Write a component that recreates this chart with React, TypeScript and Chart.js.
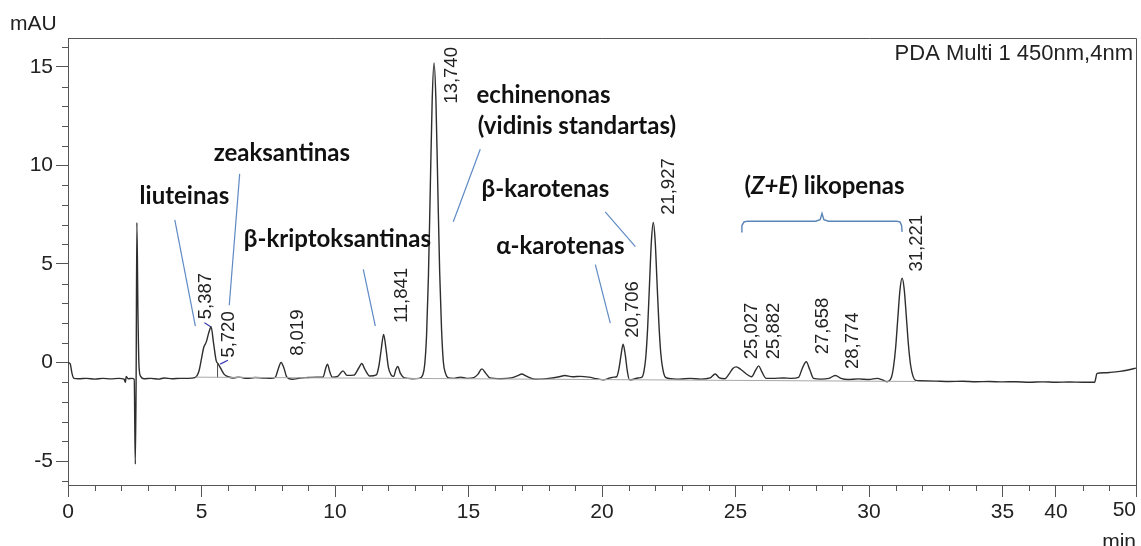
import React, { useEffect, useRef } from "react";
import { Chart, registerables } from "chart.js";

Chart.register(...registerables);

// ---- Chromatogram trace (time, min / signal, mAU) ----
const traceTime = [
  0.0, 0.08, 0.15, 0.22, 0.4, 0.7, 1.0, 1.3, 1.6, 1.9, 2.1, 2.15, 2.18, 2.25, 2.4, 2.48, 2.52, 2.55, 2.58, 2.62,
  2.66, 2.72, 2.85, 3.1, 3.4, 3.6, 3.9, 4.2, 4.5, 4.75, 4.9, 5.0, 5.08, 5.18, 5.28, 5.36, 5.45, 5.55, 5.63, 5.72,
  5.85, 6.0, 6.2, 6.4, 6.7, 7.0, 7.3, 7.6, 7.76, 7.88, 7.98, 8.08, 8.2, 8.4, 8.7, 9.0, 9.3, 9.55, 9.65, 9.72,
  9.8, 9.9, 10.1, 10.3, 10.45, 10.7, 10.9, 11.0, 11.12, 11.3, 11.55, 11.64, 11.73, 11.82, 11.91, 12.0, 12.1, 12.2,
  12.28, 12.35, 12.45, 12.6, 12.9, 13.15, 13.29, 13.36, 13.43, 13.5, 13.57, 13.64, 13.71, 13.78, 13.85, 13.92,
  13.99, 14.06, 14.14, 14.25, 14.45, 14.7, 14.95, 15.2, 15.35, 15.5, 15.65, 15.8, 16.2, 16.6, 16.85, 17.0, 17.15,
  17.5, 18.0, 18.4, 18.6, 18.9, 19.2, 19.5, 19.8, 20.05, 20.3, 20.45, 20.55, 20.63, 20.71, 20.79, 20.87, 20.95,
  21.03, 21.15, 21.35, 21.5, 21.57, 21.64, 21.71, 21.78, 21.85, 21.92, 21.99, 22.06, 22.13, 22.2, 22.28, 22.38,
  22.6, 22.9, 23.3, 23.7, 24.05, 24.24, 24.4, 24.6, 24.75, 24.9, 25.03, 25.2, 25.45, 25.6, 25.75, 25.87, 25.98,
  26.15, 26.4, 26.8, 27.1, 27.36, 27.5, 27.65, 27.78, 27.92, 28.2, 28.5, 28.74, 28.95, 29.2, 29.6, 30.0, 30.3,
  30.5, 30.67, 30.84, 30.92, 31.0, 31.08, 31.16, 31.24, 31.32, 31.4, 31.48, 31.56, 31.65, 31.75, 31.9, 32.5,
  33.0, 33.5, 34.0, 34.5, 35.0, 35.5, 36.0, 36.5, 37.0, 37.5, 38.0, 38.45, 38.54, 38.8, 39.04, 39.4, 39.7, 40.0,
];
const traceMAU = [
  0.0, -0.05, -0.55, -0.8, -0.82, -0.8, -0.84, -0.8, -0.83, -0.8, -0.84, -1.0, -0.7, -0.82, -0.8, -0.85, -5.15, -1.2, 7.1, 2.5,
  -0.2, -0.7, -0.82, -0.8, -0.84, -0.78, -0.82, -0.8, -0.8, -0.76, -0.45, 0.2, 0.75, 1.05, 1.55, 1.8, 1.0, 0.1, -0.08, -0.3,
  -0.6, -0.72, -0.78, -0.74, -0.8, -0.76, -0.78, -0.8, -0.75, -0.3, 0.0, -0.25, -0.75, -0.85, -0.78, -0.76, -0.74, -0.74, -0.3, -0.08,
  -0.45, -0.74, -0.7, -0.42, -0.65, -0.64, -0.25, -0.05, -0.35, -0.68, -0.62, -0.2, 0.65, 1.43, 0.7, -0.25, -0.62, -0.7,
  -0.35, -0.2, -0.55, -0.78, -0.82, -0.8, -0.62, -0.1, 1.4, 4.4, 8.9, 13.3, 15.2, 13.3, 8.9, 4.6,
  1.7, 0.0, -0.55, -0.78, -0.8, -0.74, -0.8, -0.76, -0.6, -0.32, -0.55, -0.78, -0.82, -0.78, -0.66, -0.58, -0.68,
  -0.85, -0.8, -0.72, -0.66, -0.72, -0.7, -0.74, -0.82, -0.88, -0.78, -0.74, -0.72, -0.35, 0.35, 0.93, 0.4, -0.45,
  -0.88, -0.86, -0.78, -0.74, -0.45, 0.27, 1.77, 4.0, 6.15, 7.1, 6.2, 4.1, 2.0, 0.5, -0.35, -0.75,
  -0.82, -0.84, -0.8, -0.84, -0.78, -0.58, -0.78, -0.82, -0.6, -0.3, -0.22, -0.35, -0.62, -0.72, -0.4, -0.17, -0.45,
  -0.8, -0.8, -0.78, -0.8, -0.75, -0.3, 0.04, -0.35, -0.8, -0.84, -0.8, -0.66, -0.8, -0.86, -0.83, -0.86, -0.8,
  -0.88, -0.97, -0.75, -0.2, 0.79, 2.26, 3.68, 4.28, 3.7, 2.3, 0.85, -0.15, -0.7, -0.9, -0.92, -0.94,
  -0.96, -0.95, -0.97, -0.96, -0.98, -0.97, -1.0, -0.98, -1.0, -0.99, -1.0, -1.0, -0.55, -0.52, -0.5, -0.45, -0.38, -0.28,
];

// integration baseline and drop line
const baselineTime = [4.77, 31.75];
const baselineMAU = [-0.74, -0.96];
const dropTime = [5.6, 5.6];
const dropMAU = [-0.08, -0.75];

// axes
const xMin = 0;
const xMax = 40;
const yMin = -6.21;
const yMax = 16.46;
const xMajorTicks = [0, 5, 10, 15, 20, 25, 30, 35, 37, 40];
const xMajorLabels = ["0", "5", "10", "15", "20", "25", "30", "35", "40", "50"];
const yMajorTicks = [-5, 0, 5, 10, 15];
const yMajorLabels = ["-5", "0", "5", "10", "15"];
const xUnit = "min";
const yUnit = "mAU";
const detectorText = "PDA Multi 1 450nm,4nm";

// retention-time labels (rotated), anchored at their lower end
const peakLabels = ["5,387", "5,720", "8,019", "11,841", "13,740", "20,706", "21,927", "25,027", "25,882", "27,658", "28,774", "31,221"];
const peakLabelTime = [5.18, 6.01, 8.61, 12.5, 14.39, 21.15, 22.52, 25.63, 26.45, 28.27, 29.39, 31.8];
const peakLabelMAU = [2.2, 0.25, 0.34, 2.0, 13.13, 1.26, 7.49, 0.17, 0.17, 0.42, -0.33, 4.62];

// small label-to-peak marks
const markT0 = [5.11, 5.7];
const markV0 = [2.02, -0.08];
const markT1 = [5.36, 5.99];
const markV1 = [1.8, 0.12];

// compound names (centre time, baseline mAU)
const compoundNames = ["liuteinas", "zeaksantinas", "β-kriptoksantinas", "echinenonas", "(vidinis standartas)", "β-karotenas", "α-karotenas"];
const compoundTime = [4.36, 8.01, 10.09, 17.81, 19.06, 17.88, 18.44];
const compoundMAU = [8.06, 10.2, 5.88, 13.18, 11.59, 8.4, 5.52];
const lycopeneParts = ["(", "Z+E", ") likopenas"];
const lycopeneTime = 28.33;
const lycopeneMAU = 8.55;

// leader lines from names to peaks
const leaderT0 = [4.0, 6.43, 11.06, 15.44, 20.12, 19.75];
const leaderV0 = [7.24, 9.57, 4.72, 10.82, 7.64, 4.97];
const leaderT1 = [4.77, 6.04, 11.51, 14.43, 21.25, 20.31];
const leaderV1 = [1.85, 2.91, 1.85, 7.14, 5.88, 2.0];

// brace over the lycopene peaks
const braceTime = [25.21, 25.24, 25.32, 25.45, 28.0, 28.17, 28.24, 28.31, 28.48, 31.03, 31.16, 31.22, 31.24];
const braceMAU = [6.63, 6.95, 7.13, 7.17, 7.17, 7.25, 7.56, 7.25, 7.17, 7.17, 7.13, 6.95, 6.63];

const AXIS = "#555555";
const TEXT = "#222222";
const SANS = "'Liberation Sans', Arial, sans-serif";
const BOLD = "'Lato', 'Open Sans', sans-serif";
const BOLD_SIZE = 24;
const LEADER = "#5f8ac4";

const pts = (xs: number[], ys: number[]) => xs.map((x, i) => ({ x, y: ys[i] }));

const annotatePlugin = {
  id: "annotate",
  afterDraw(chart: any) {
    const { ctx, chartArea, scales } = chart;
    const x = scales.x;
    const y = scales.y;
    ctx.save();
    // frame top & right
    ctx.strokeStyle = AXIS;
    ctx.lineWidth = 1;
    ctx.beginPath();
    ctx.moveTo(Math.round(chartArea.left), Math.round(chartArea.top) + 0.5);
    ctx.lineTo(Math.round(chartArea.right) + 0.5, Math.round(chartArea.top) + 0.5);
    ctx.lineTo(Math.round(chartArea.right) + 0.5, Math.round(chartArea.bottom));
    ctx.stroke();
    // minor ticks
    ctx.beginPath();
    for (let t = Math.ceil(xMin); t <= xMax; t++) {
      if (xMajorTicks.includes(t)) continue;
      const px = Math.round(x.getPixelForValue(t)) + 0.5;
      ctx.moveTo(px, chartArea.bottom);
      ctx.lineTo(px, chartArea.bottom + 6);
    }
    for (let v = Math.ceil(yMin); v <= yMax; v++) {
      if (yMajorTicks.includes(v)) continue;
      const py = Math.round(y.getPixelForValue(v)) + 0.5;
      ctx.moveTo(chartArea.left - 6, py);
      ctx.lineTo(chartArea.left, py);
    }
    ctx.stroke();

    // last x label, right aligned, and unit
    ctx.fillStyle = TEXT;
    ctx.font = `21px ${SANS}`;
    ctx.textAlign = "right";
    ctx.textBaseline = "top";
    const lastX = x.getPixelForValue(xMajorTicks[xMajorTicks.length - 1]);
    ctx.fillText(xMajorLabels[xMajorLabels.length - 1], lastX, chartArea.bottom + 15);
    ctx.textBaseline = "alphabetic";
    ctx.fillText(xUnit, lastX, chartArea.bottom + 63);
    ctx.textAlign = "left";
    ctx.fillText(yUnit, 10, 30);
    ctx.font = `22px ${SANS}`;
    ctx.textAlign = "right";
    ctx.fillText(detectorText, chartArea.right - 3, chartArea.top + 22);

    // rotated retention times
    ctx.font = `18.5px ${SANS}`;
    ctx.textAlign = "left";
    ctx.textBaseline = "middle";
    peakLabels.forEach((lab, i) => {
      ctx.save();
      ctx.translate(x.getPixelForValue(peakLabelTime[i]), y.getPixelForValue(peakLabelMAU[i]));
      ctx.rotate(-Math.PI / 2);
      ctx.fillText(lab, 0, 0);
      ctx.restore();
    });

    // compound names
    ctx.fillStyle = "#111111";
    ctx.font = `bold ${BOLD_SIZE}px ${BOLD}`;
    ctx.textAlign = "center";
    ctx.textBaseline = "alphabetic";
    compoundNames.forEach((n, i) => {
      ctx.fillText(n, x.getPixelForValue(compoundTime[i]), y.getPixelForValue(compoundMAU[i]));
    });
    // lycopene with italic Z+E
    const fonts = [`bold ${BOLD_SIZE}px ${BOLD}`, `italic bold ${BOLD_SIZE}px ${BOLD}`, `bold ${BOLD_SIZE}px ${BOLD}`];
    let total = 0;
    const widths = lycopeneParts.map((p, i) => {
      ctx.font = fonts[i];
      const w = ctx.measureText(p).width;
      total += w;
      return w;
    });
    let cx = x.getPixelForValue(lycopeneTime) - total / 2;
    const cy = y.getPixelForValue(lycopeneMAU);
    ctx.textAlign = "left";
    lycopeneParts.forEach((p, i) => {
      ctx.font = fonts[i];
      ctx.fillText(p, cx, cy);
      cx += widths[i];
    });
    ctx.restore();
  },
};

export default function App() {
  const ref = useRef<HTMLCanvasElement | null>(null);
  useEffect(() => {
    if (!ref.current) return;
    const lineSet = (data: any[], color: string, width: number, extra: any = {}) => ({
      data,
      borderColor: color,
      borderWidth: width,
      pointRadius: 0,
      fill: false,
      tension: 0,
      ...extra,
    });
    const datasets: any[] = [
      lineSet(pts(baselineTime, baselineMAU), "#a8a8a8", 1),
      lineSet(pts(dropTime, dropMAU), "#555555", 1),
      lineSet(pts(traceTime, traceMAU), "#2e2e2e", 1.4, { cubicInterpolationMode: "monotone" }),
      ...leaderT0.map((_, i) =>
        lineSet([{ x: leaderT0[i], y: leaderV0[i] }, { x: leaderT1[i], y: leaderV1[i] }], LEADER, 1.2)
      ),
      ...markT0.map((_, i) =>
        lineSet([{ x: markT0[i], y: markV0[i] }, { x: markT1[i], y: markV1[i] }], "#3c3cb4", 1.2)
      ),
      lineSet(pts(braceTime, braceMAU), "#5b84b8", 1.4),
    ];
    const chart = new Chart(ref.current, {
      type: "line",
      data: { datasets },
      options: {
        animation: false,
        responsive: false,
        devicePixelRatio: 1,
        events: [],
        layout: { padding: { top: 38, right: 5, left: 0, bottom: 0 } },
        plugins: { legend: { display: false }, tooltip: { enabled: false } },
        scales: {
          x: {
            type: "linear",
            min: xMin,
            max: xMax,
            position: "bottom",
            afterBuildTicks: (s: any) => {
              s.ticks = xMajorTicks.map((v) => ({ value: v }));
            },
            afterFit: (s: any) => {
              s.height = 61;
            },
            grid: { drawOnChartArea: false, drawTicks: true, tickLength: 12, color: AXIS, lineWidth: 1 },
            border: { display: true, color: AXIS, width: 1 },
            ticks: {
              autoSkip: false,
              maxRotation: 0,
              padding: 3,
              color: TEXT,
              font: { family: SANS, size: 21 },
              callback: (_v: any, i: number) => (i === xMajorTicks.length - 1 ? "" : xMajorLabels[i]),
            },
          },
          y: {
            type: "linear",
            min: yMin,
            max: yMax,
            afterBuildTicks: (s: any) => {
              s.ticks = yMajorTicks.map((v) => ({ value: v }));
            },
            afterFit: (s: any) => {
              s.width = 68;
            },
            grid: { drawOnChartArea: false, drawTicks: true, tickLength: 12, color: AXIS, lineWidth: 1 },
            border: { display: true, color: AXIS, width: 1 },
            ticks: {
              autoSkip: false,
              padding: 3,
              color: TEXT,
              font: { family: SANS, size: 21 },
              callback: (_v: any, i: number) => yMajorLabels[i],
            },
          },
        },
      },
      plugins: [annotatePlugin],
    });
    return () => chart.destroy();
  }, []);
  return (
    <div style={{ position: "absolute", left: 0, top: 0, width: 1141, height: 546, background: "#fff" }}>
      <canvas ref={ref} width={1141} height={546} style={{ display: "block" }} />
    </div>
  );
}
